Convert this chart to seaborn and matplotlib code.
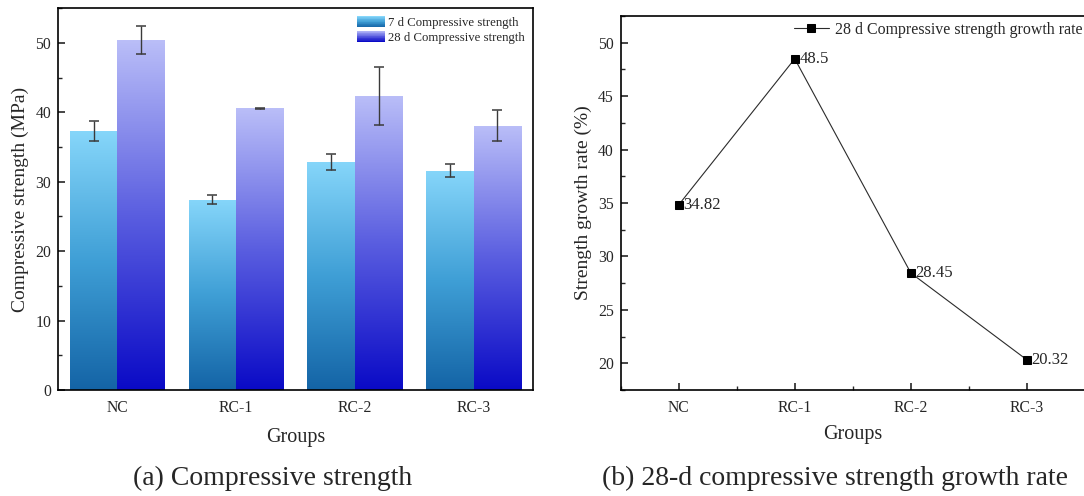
import numpy as np
import pandas as pd
import matplotlib
matplotlib.use('Agg')
import matplotlib.pyplot as plt
import seaborn as sns
from matplotlib.colors import LinearSegmentedColormap
from matplotlib.patches import Rectangle, Patch
from matplotlib.legend_handler import HandlerBase
from matplotlib.ticker import MultipleLocator

groups = ['NC', 'RC-1', 'RC-2', 'RC-3']
strength_7d = [37.3, 27.4, 32.9, 31.6]
strength_7d_err = [1.4, 0.65, 1.15, 0.95]
strength_28d = [50.4, 40.6, 42.4, 38.1]
strength_28d_err = [2.05, 0.08, 4.2, 2.2]
growth_rate = [34.82, 48.5, 28.45, 20.32]

series_names = ['7 d Compressive strength', '28 d Compressive strength']
growth_name = '28 d Compressive strength growth rate'

sns.set_theme(style='white')
plt.rcParams['font.family'] = ['Liberation Serif', 'DejaVu Serif']

cmap_7d = LinearSegmentedColormap.from_list('c7', ['#1464a6', '#3f9fd6', '#86d6fa'])
cmap_28d = LinearSegmentedColormap.from_list('c28', ['#0a0ac6', '#5a5ee0', '#babef8'])


class GradientHandler(HandlerBase):
    def __init__(self, cmap, **kw):
        super().__init__(**kw)
        self.cmap = cmap

    def create_artists(self, legend, orig_handle, xdescent, ydescent,
                       width, height, fontsize, trans):
        n = 16
        arts = []
        for i in range(n):
            r = Rectangle((-xdescent, -ydescent + height * i / n), width, height / n * 1.05,
                          facecolor=self.cmap(i / (n - 1)), edgecolor='none', transform=trans)
            arts.append(r)
        return arts


df = pd.DataFrame({
    'Group': groups * 2,
    'Age': [series_names[0]] * 4 + [series_names[1]] * 4,
    'Strength': strength_7d + strength_28d,
})

fig = plt.figure(figsize=(10.84, 4.96), dpi=100)
ax1 = fig.add_axes([0.0535, 0.2137, 0.4382, 0.7696])
ax2 = fig.add_axes([0.5725, 0.2137, 0.4284, 0.754])

# ---- (a) bars with gradient fill
sns.barplot(data=df, x='Group', y='Strength', hue='Age', errorbar=None,
            width=0.8, legend=False, ax=ax1)
grad = np.linspace(0, 1, 256).reshape(-1, 1)
for cont, cmap, errs in zip(ax1.containers, [cmap_7d, cmap_28d],
                            [strength_7d_err, strength_28d_err]):
    for bar, e in zip(cont, errs):
        x0, w, h = bar.get_x(), bar.get_width(), bar.get_height()
        bar.set_facecolor('none')
        bar.set_edgecolor('none')
        im = ax1.imshow(grad, cmap=cmap, origin='lower', aspect='auto',
                        extent=[x0, x0 + w, 0, h], zorder=1)
        im.set_clip_path(bar)
        ax1.errorbar(x0 + w / 2, h, yerr=e, color='#3a3a3a', lw=1.0,
                     capsize=3.3, capthick=1.1, zorder=3)

ax1.set_xlim(-0.5, 3.5)
ax1.set_ylim(0, 55)
ax1.yaxis.set_major_locator(MultipleLocator(10))
ax1.yaxis.set_minor_locator(MultipleLocator(5))
ax1.tick_params(axis='y', which='major', direction='in', length=5.2, width=1.2,
                labelsize=11.3, pad=5, left=True)
ax1.tick_params(axis='y', which='minor', direction='in', length=3, width=1.0, left=True)
ax1.tick_params(axis='x', length=0, labelsize=11.3, pad=7)
ax1.set_xlabel('Groups', fontsize=14.5, labelpad=9)
ax1.set_ylabel('Compressive strength (MPa)', fontsize=14)
ax1.yaxis.set_label_coords(-0.060, 0.5)
for s in ax1.spines.values():
    s.set_linewidth(1.2)
    s.set_color('black')

handles = [Patch(label=series_names[0]), Patch(label=series_names[1])]
ax1.legend(handles=handles, loc='upper left', bbox_to_anchor=(0.629, 0.98),
           frameon=False, fontsize=9.2, borderaxespad=0, borderpad=0,
           handlelength=2.2, handleheight=1.0, handletextpad=0.25, labelspacing=0.12,
           handler_map={handles[0]: GradientHandler(cmap_7d),
                        handles[1]: GradientHandler(cmap_28d)})

# ---- (b) growth rate line
sns.lineplot(x=np.arange(len(groups)), y=growth_rate, ax=ax2, color='#2b2b2b',
             lw=0.8, marker='s', markersize=6, markerfacecolor='black',
             markeredgecolor='black', label=growth_name)
for i, v in enumerate(growth_rate):
    ax2.annotate(str(v), (i, v), xytext=(3.2, 0), textcoords='offset points',
                 va='center', ha='left', fontsize=12)

ax2.set_xlim(-0.5, 3.5)
ax2.set_ylim(17.5, 52.5)
ax2.set_xticks(range(len(groups)))
ax2.set_xticklabels(groups)
ax2.xaxis.set_minor_locator(MultipleLocator(1, offset=0.5))
ax2.yaxis.set_major_locator(MultipleLocator(5))
ax2.yaxis.set_minor_locator(MultipleLocator(2.5))
ax2.tick_params(which='major', direction='in', length=5.2, width=1.2,
                labelsize=11.3, left=True, bottom=True)
ax2.tick_params(axis='x', which='major', pad=7)
ax2.tick_params(axis='y', which='major', pad=5)
ax2.tick_params(which='minor', direction='in', length=3, width=1.0, left=True, bottom=True)
ax2.set_xlabel('Groups', fontsize=14.5, labelpad=7)
ax2.set_ylabel('Strength growth rate (%)', fontsize=14)
ax2.yaxis.set_label_coords(-0.062, 0.5)
ax2.spines['right'].set_visible(False)
for s in ['left', 'top', 'bottom']:
    ax2.spines[s].set_linewidth(1.2)
    ax2.spines[s].set_color('black')
ax2.legend(loc='upper left', bbox_to_anchor=(0.373, 0.985), frameon=False,
           fontsize=11.4, borderaxespad=0, borderpad=0, handlelength=2.2,
           handletextpad=0.4)

fig.text(0.251, 0.036, '(a) Compressive strength', ha='center', va='center', fontsize=20)
fig.text(0.770, 0.036, '(b) 28-d compressive strength growth rate', ha='center',
         va='center', fontsize=20)

fig.savefig('out.png', dpi=100, facecolor='white')
